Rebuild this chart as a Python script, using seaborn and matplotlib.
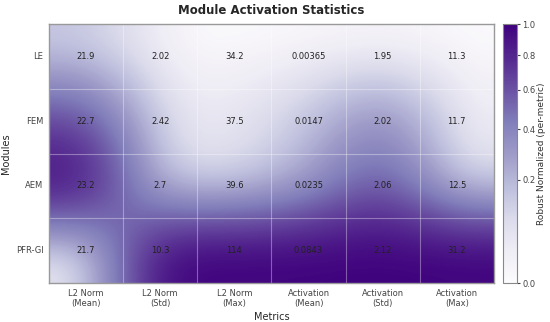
import numpy as np
import pandas as pd
import matplotlib
matplotlib.use("Agg")
import matplotlib.pyplot as plt
import matplotlib.colors as mcolors
import seaborn as sns

# Raw statistics per module
modules = ["LE", "FEM", "AEM", "PFR-GI"]
metrics = ["L2 Norm\n(Mean)", "L2 Norm\n(Std)", "L2 Norm\n(Max)",
           "Activation\n(Mean)", "Activation\n(Std)", "Activation\n(Max)"]
l2_mean = [21.9, 22.7, 23.2, 21.7]
l2_std = [2.02, 2.42, 2.7, 10.3]
l2_max = [34.2, 37.5, 39.6, 114]
act_mean = [0.00365, 0.0147, 0.0235, 0.0843]
act_std = [1.95, 2.02, 2.06, 2.12]
act_max = [11.3, 11.7, 12.5, 31.2]

raw = pd.DataFrame(
    np.column_stack([l2_mean, l2_std, l2_max, act_mean, act_std, act_max]),
    index=modules, columns=metrics)

# per-metric normalisation
norm_df = (raw - raw.min()) / (raw.max() - raw.min())

sns.set_style("white")
plt.rcParams['font.family'] = ['DejaVu Sans']

fig = plt.figure(figsize=(5.5, 3.22), dpi=100)
ax = fig.add_axes([0.089, 0.121, 0.809, 0.804])
cax = fig.add_axes([0.9145, 0.121, 0.0255, 0.804])

cnorm = mcolors.PowerNorm(gamma=0.57, vmin=0, vmax=1)
sns.heatmap(norm_df, ax=ax, cbar_ax=cax, cmap="Purples", norm=cnorm,
            annot=raw.values, fmt=".3g",
            annot_kws={"fontsize": 6, "color": "#222222"},
            cbar_kws={"label": "Robust Normalized (per-metric)"})

# smooth version of the cells under the annotations
ax.collections[0].set_visible(False)
ax.imshow(norm_df.values, cmap="Purples", norm=cnorm, interpolation="bicubic",
          extent=(0, len(metrics), len(modules), 0), aspect="auto", zorder=0)

for x in range(1, len(metrics)):
    ax.axvline(x, color="white", alpha=0.35, lw=0.8)
for y in range(1, len(modules)):
    ax.axhline(y, color="white", alpha=0.35, lw=0.8)

for sp in ax.spines.values():
    sp.set_visible(True)
    sp.set_color("#999999")
    sp.set_linewidth(1.0)

ax.set_title("Module Activation Statistics", fontsize=8.5, fontweight="bold", pad=7)
ax.set_xlabel("Metrics", fontsize=7, labelpad=3)
ax.set_ylabel("Modules", fontsize=7, labelpad=3)
ax.set_xticklabels(metrics, rotation=0, fontsize=6, color="#444444")
ax.set_yticklabels(modules, rotation=0, fontsize=6, color="#444444")
ax.tick_params(length=0, pad=4)

cb = ax.collections[0].colorbar
cb.set_ticks([0.0, 0.2, 0.4, 0.6, 0.8, 1.0])
cb.outline.set_linewidth(0.8)
cb.outline.set_edgecolor("#888888")
cax.tick_params(labelsize=6, length=2.5, pad=1.5, right=True, colors="#444444")
cb.set_label("Robust Normalized (per-metric)", fontsize=6.5, color="#333333",
             labelpad=1)

fig.savefig("out.png", dpi=100)
